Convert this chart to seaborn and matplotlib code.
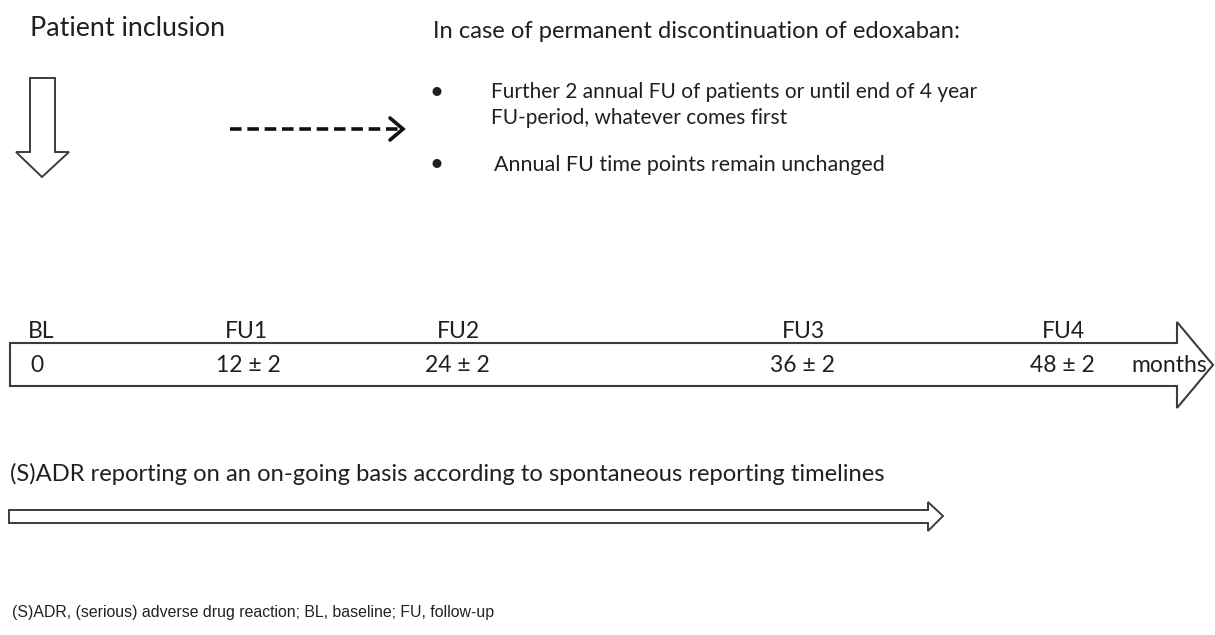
"""Study design timeline: patient inclusion, annual follow-up visits, (S)ADR reporting."""
import matplotlib.pyplot as plt
from matplotlib.patches import Polygon
import seaborn as sns

# labels of the diagram
visit_labels = ["BL", "FU1", "FU2", "FU3", "FU4"]
month_labels = ["0", "12 ± 2", "24 ± 2", "36 ± 2", "48 ± 2  months"]
discontinuation_title = "In case of permanent discontinuation of edoxaban:"
discontinuation_bullets = [
    "Further 2 annual FU of patients or until end of 4 year\nFU-period, whatever comes first",
    "Annual FU time points remain unchanged",
]
inclusion_label = "Patient inclusion"
adr_label = "(S)ADR reporting on an on-going basis according to spontaneous reporting timelines"
footnote = "(S)ADR, (serious) adverse drug reaction; BL, baseline; FU, follow-up"

# layout (pixel coordinates of the 1215x635 canvas)
visit_x = [28, 225, 437, 782, 1042]
month_x = [30, 216, 425, 770, 1030]

sns.set_theme(style="white")
plt.rcParams["font.family"] = ["Lato", "DejaVu Sans"]

TEXT = "#231f20"
EDGE = "#3c3c3c"
FS = 16.5

fig = plt.figure(figsize=(12.15, 6.35), dpi=100)
ax = fig.add_axes([0, 0, 1, 1])
ax.set_xlim(0, 1215)
ax.set_ylim(635, 0)
ax.axis("off")
renderer = fig.canvas.get_renderer()


def fit(t, width):
    """scale the font so the text spans `width` pixels"""
    w = t.get_window_extent(renderer).width
    t.set_fontsize(t.get_fontsize() * width / w)
    return t.get_fontsize()


# patient inclusion + down arrow
t = ax.text(30, 28, inclusion_label, fontsize=FS, color=TEXT, va="center")
fit(t, 194)
down = [(30, 78), (55, 78), (55, 152), (69, 152), (42, 177), (16, 152), (30, 152)]
ax.add_patch(Polygon(down, closed=True, fill=False, edgecolor=EDGE, lw=1.4, joinstyle="miter"))

# dashed arrow to the discontinuation box
sns.lineplot(x=[230, 401], y=[129, 129], ax=ax, color="#111111", lw=2.6,
             dashes=False, linestyle=(0, (3.2, 1.6)), sort=False)
ax.plot([390, 403, 390], [118, 129, 140], color="#111111", lw=2.6, solid_joinstyle="miter")

t = ax.text(433, 31, discontinuation_title, fontsize=FS, color=TEXT, va="center")
fit(t, 527)

bullet_y = [92, 165]
text_x = [491, 494]
bullet_w = [486, 392]
for by, tx, bw, txt in zip(bullet_y, text_x, bullet_w, discontinuation_bullets):
    ax.text(437, by, "•", fontsize=FS + 1, color=TEXT, va="center", ha="center")
    lines = txt.split("\n")
    t = ax.text(tx, by, lines[0], fontsize=FS, color=TEXT, va="center")
    fs = fit(t, bw)
    for k, line in enumerate(lines[1:], start=1):
        ax.text(tx, by + 26 * k, line, fontsize=fs, color=TEXT, va="center")

# timeline arrow
for x, lab in zip(visit_x, visit_labels):
    ax.text(x, 332, lab, fontsize=FS, color=TEXT, va="center")
big = [(10, 343), (1177, 343), (1177, 322), (1213, 365), (1177, 408), (1177, 386), (10, 386)]
ax.add_patch(Polygon(big, closed=True, fill=False, edgecolor=EDGE, lw=1.5, joinstyle="miter"))
for x, lab in zip(month_x, month_labels):
    value, _, unit = lab.partition("  ")
    ax.text(x, 365, value, fontsize=FS, color=TEXT, va="center")
    if unit:
        ax.text(1207, 365, unit, fontsize=FS, color=TEXT, va="center", ha="right")

# (S)ADR reporting arrow
t = ax.text(10, 474, adr_label, fontsize=FS, color=TEXT, va="center")
fit(t, 875)
thin = [(9, 510), (928, 510), (928, 502), (943, 516), (928, 531), (928, 523), (9, 523)]
ax.add_patch(Polygon(thin, closed=True, fill=False, edgecolor=EDGE, lw=1.4, joinstyle="miter"))

t = ax.text(12, 612, footnote, fontsize=10.5, color="#222222", va="center",
            family=["Liberation Sans", "DejaVu Sans"])
fit(t, 485)

fig.savefig("out.png", dpi=100, facecolor="white")
plt.close(fig)
